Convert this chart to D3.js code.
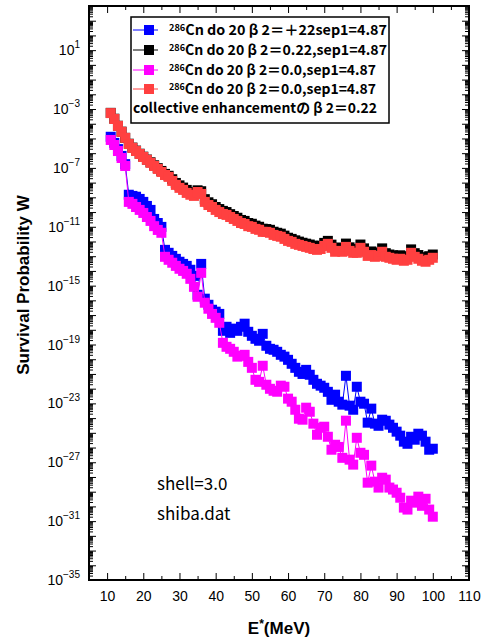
<!DOCTYPE html>
<html><head><meta charset="utf-8">
<script src="https://cdn.jsdelivr.net/npm/d3@7"></script>
<style>body{margin:0;background:#fff}svg{display:block}</style>
</head><body>
<svg id="chart" width="483" height="643"></svg>
<script>
// ---- data ----
const energy = [11,12,13,14,15,16,17,18,19,20,21,22,23,24,25,26,27,28,29,30,
  31,32,33,34,35,36,37,38,39,40,41,42,43,44,45,46,47,48,49,50,
  51,52,53,54,55,56,57,58,59,60,61,62,63,64,65,66,67,68,69,70,
  71,72,73,74,75,76,77,78,79,80,81,82,83,84,85,86,87,88,89,90,
  91,92,93,94,95,96,97,98,99,100];

const wBlue = [1.3e-5,5.0e-6,1.9e-6,6.5e-7,1.8e-7,1.5e-9,1.25e-9,1.1e-9,7.8e-10,4.9e-10,
  2.6e-10,1.4e-10,3.4e-11,1.8e-11,9.8e-12,2.7e-13,1.7e-13,1.05e-13,6.6e-14,4.2e-14,
  3.0e-14,2.2e-14,1.2e-14,4.6e-15,2.4e-16,3.0e-14,1.3e-16,5.0e-17,2.3e-17,1.7e-17,
  1.2e-17,8.5e-19,1.6e-18,6.2e-19,1.2e-18,8.5e-19,1.6e-18,2.6e-18,7.3e-19,3.9e-19,
  2.45e-19,1.8e-19,5.3e-19,8.2e-20,5.1e-20,4.4e-20,3.2e-20,2.0e-20,1.5e-20,9.1e-21,
  4.9e-21,2.6e-21,1.4e-21,1.0e-21,1.9e-21,8.8e-22,4.0e-22,2.15e-22,1.6e-22,1.15e-22,
  6.1e-23,1.75e-23,3.9e-23,1.3e-23,8.2e-24,7.5e-22,7.0e-24,3.7e-24,1.35e-22,1.3e-23,
  9.5e-24,4.9e-25,4.4e-24,4.2e-25,3.0e-25,7.8e-25,6.6e-25,3.6e-25,2.2e-25,1.2e-25,
  6.4e-26,2.5e-26,1.8e-26,5.4e-26,3.4e-26,8.7e-26,6.4e-26,2.5e-26,7.1e-27,8.3e-27];

const wBlack = [5.5e-4,2.2e-4,7.3e-5,2.9e-5,1.1e-5,4.4e-6,2.4e-6,1.5e-6,9.2e-7,5.8e-7,
  3.7e-7,2.4e-7,1.5e-7,9.6e-8,6.2e-8,3.9e-8,2.9e-8,1.7e-8,9.5e-9,6.5e-9,
  4.6e-9,3.2e-9,2.3e-9,1.9e-9,3.0e-9,2.6e-9,7.5e-10,4.6e-10,3.4e-10,2.2e-10,
  1.6e-10,1.2e-10,1.0e-10,7.2e-11,5.4e-11,4.1e-11,2.9e-11,2.5e-11,1.8e-11,1.6e-11,
  1.2e-11,1.0e-11,7.4e-12,7.0e-12,6.2e-12,4.6e-12,3.9e-12,3.4e-12,2.5e-12,1.8e-12,
  1.5e-12,1.2e-12,9.8e-13,8.2e-13,7.1e-13,6.2e-13,5.2e-13,4.5e-13,5.1e-13,8.0e-13,
  1.1e-12,6.1e-13,3.4e-13,3.9e-13,3.4e-13,7.2e-13,4.0e-13,3.0e-13,2.9e-13,6.2e-13,
  3.4e-13,1.8e-13,2.1e-13,1.6e-13,1.8e-13,3.4e-13,1.6e-13,1.3e-13,1.15e-13,1.0e-13,
  1.15e-13,8.6e-14,1.0e-13,2.9e-13,1.6e-13,1.2e-13,8.6e-14,7.4e-14,1.0e-13,1.3e-13];

const wMagenta = [7.9e-6,3.6e-6,1.4e-6,4.7e-7,1.35e-7,4.9e-10,3.6e-10,2.2e-10,1.4e-10,8.7e-11,
  4.6e-11,2.5e-11,1.1e-11,6.1e-12,3.9e-12,9.1e-14,5.7e-14,3.6e-14,2.2e-14,1.4e-14,
  1.0e-14,6.4e-15,2.9e-15,8.3e-16,1.75e-16,7.4e-15,6.9e-17,2.7e-17,1.2e-17,6.5e-18,
  3.0e-18,1.3e-19,7.0e-20,5.1e-20,3.2e-20,1.5e-20,1.7e-20,2.0e-20,6.6e-21,2.6e-21,
  4.0e-22,2.9e-22,3.6e-21,1.85e-22,9.8e-23,7.2e-23,6.2e-23,1.6e-22,1.35e-22,2.1e-23,
  1.3e-23,3.7e-24,9.1e-25,7.8e-25,5.1e-24,2.7e-24,4.2e-25,7.4e-26,2.2e-25,2.6e-25,
  5.4e-26,7.1e-27,1.55e-26,1.1e-26,2.0e-27,6.7e-25,1.5e-27,6.9e-28,4.6e-26,4.4e-27,
  3.2e-27,4.1e-29,5.9e-28,4.8e-29,1.9e-29,8.9e-29,6.6e-29,1.9e-29,1.4e-29,8.5e-30,
  3.9e-30,8.3e-31,6.1e-31,2.45e-30,1.8e-30,4.6e-30,1.1e-30,3.3e-30,6.1e-31,2.0e-31];

const wRed = [5.3e-4,2.1e-4,7.1e-5,2.8e-5,1.1e-5,4.2e-6,2.3e-6,1.4e-6,8.8e-7,5.5e-7,
  3.5e-7,2.2e-7,1.35e-7,8.5e-8,5.3e-8,3.3e-8,2.45e-8,1.3e-8,7.0e-9,4.4e-9,
  3.2e-9,2.0e-9,1.5e-9,1.25e-9,2.3e-9,1.7e-9,4.9e-10,3.0e-10,2.2e-10,1.4e-10,
  1.0e-10,7.4e-11,6.4e-11,4.6e-11,3.4e-11,2.5e-11,1.8e-11,1.55e-11,1.1e-11,9.8e-12,
  7.2e-12,6.2e-12,4.5e-12,4.5e-12,3.9e-12,2.8e-12,2.4e-12,2.1e-12,1.5e-12,1.1e-12,
  9.4e-13,6.9e-13,5.9e-13,5.0e-13,4.3e-13,3.7e-13,3.1e-13,2.7e-13,3.1e-13,5.0e-13,
  6.9e-13,3.7e-13,2.0e-13,2.3e-13,2.0e-13,4.3e-13,2.3e-13,1.7e-13,1.7e-13,3.7e-13,
  2.0e-13,1.05e-13,1.2e-13,9.1e-14,1.05e-13,2.0e-13,9.1e-14,7.8e-14,6.7e-14,5.7e-14,
  6.7e-14,4.9e-14,5.7e-14,1.7e-13,9.1e-14,6.7e-14,4.9e-14,4.2e-14,5.7e-14,7.8e-14];

const seriesColors = ["#0000ff", "#000000", "#ff00ff", "#ff4040"];
const legendSup = ["286", "286", "286", "286"];
const legendText = ["Cn do 20 β 2＝＋22sep1=4.87", "Cn do 20 β 2＝0.22,sep1=4.87",
  "Cn do 20 β 2＝0.0,sep1=4.87", "Cn do 20 β 2＝0.0,sep1=4.87"];
const legendExtraLine = "collective enhancementの β 2＝0.22";
const xTickValues = [10,20,30,40,50,60,70,80,90,100,110];
const xMinorTicks = [5,15,25,35,45,55,65,75,85,95,105];
const yLabelExponents = [1,-3,-7,-11,-15,-19,-23,-27,-31,-35];
const notes = ["shell=3.0", "shiba.dat"];

// ---- chart ----
const svg = d3.select("#chart");
svg.append("rect").attr("width", 483).attr("height", 643).attr("fill", "#fff");
const P = {l: 89, r: 469, t: 6, b: 580};
const x = d3.scaleLinear().domain([5, 110]).range([P.l, P.r]);
const y = d3.scaleLog().domain([1e-35, 1e4]).range([P.b, P.t]);

const decades = d3.range(-35, 5).map(e => Math.pow(10, e));
const minors = [];
d3.range(-35, 4).forEach(e => { for (let m = 2; m <= 9; m++) minors.push(m * Math.pow(10, e)); });

function styleAxis(g) {
  g.select(".domain").remove();
  g.selectAll("line").attr("stroke", "#000").attr("stroke-width", 1);
}
// left
svg.append("g").attr("transform", `translate(${P.l},0)`)
  .call(d3.axisLeft(y).tickValues(decades).tickSize(-7).tickFormat("")).call(styleAxis);
svg.append("g").attr("transform", `translate(${P.l},0)`)
  .call(d3.axisLeft(y).tickValues(minors).tickSize(-4).tickFormat("")).call(styleAxis);
// right
svg.append("g").attr("transform", `translate(${P.r},0)`)
  .call(d3.axisRight(y).tickValues(decades).tickSize(-7).tickFormat("")).call(styleAxis);
svg.append("g").attr("transform", `translate(${P.r},0)`)
  .call(d3.axisRight(y).tickValues(minors).tickSize(-4).tickFormat("")).call(styleAxis);
// bottom
const xb = svg.append("g").attr("transform", `translate(0,${P.b})`)
  .call(d3.axisBottom(x).tickValues(xTickValues).tickSize(-7).tickPadding(11).tickFormat(d3.format("d")))
  .call(styleAxis);
xb.selectAll("text").attr("font-family", "Liberation Sans, Arial, sans-serif")
  .attr("font-size", 14).attr("fill", "#000");
svg.append("g").attr("transform", `translate(0,${P.b})`)
  .call(d3.axisBottom(x).tickValues(xMinorTicks).tickSize(-4).tickFormat("")).call(styleAxis);
// top
svg.append("g").attr("transform", `translate(0,${P.t})`)
  .call(d3.axisTop(x).tickValues(xTickValues).tickSize(-7).tickFormat("")).call(styleAxis);
svg.append("g").attr("transform", `translate(0,${P.t})`)
  .call(d3.axisTop(x).tickValues(xMinorTicks).tickSize(-4).tickFormat("")).call(styleAxis);

// y labels with superscripts
const yl = svg.append("g").attr("font-family", "Liberation Sans, Arial, sans-serif").attr("fill", "#000");
yLabelExponents.forEach(e => {
  const t = yl.append("text").attr("x", 80).attr("y", y(Math.pow(10, e)) + 5)
    .attr("text-anchor", "end").attr("font-size", 14);
  t.append("tspan").text("10");
  t.append("tspan").attr("dy", -7).attr("font-size", 10).text(e < 0 ? "\u2212" + (-e) : String(e));
});

// axis titles
svg.append("text").attr("transform", `translate(29,${(P.t + P.b) / 2 - 8}) rotate(-90)`)
  .attr("text-anchor", "middle").attr("font-family", "Liberation Sans, Arial, sans-serif")
  .attr("font-weight", "bold").attr("font-size", 17).text("Survival Probability W");
const xt = svg.append("text").attr("x", (P.l + P.r) / 2).attr("y", 634).attr("text-anchor", "middle")
  .attr("font-family", "Liberation Sans, Arial, sans-serif").attr("font-weight", "bold").attr("font-size", 17);
xt.append("tspan").text("E");
xt.append("tspan").attr("dy", -6).attr("font-size", 12).text("*");
xt.append("tspan").attr("dy", 6).text("(MeV)");

// series
const allSeries = [wBlue, wBlack, wMagenta, wRed];
const line = d3.line().x(d => x(d[0])).y(d => y(d[1]));
const plot = svg.append("g");
allSeries.forEach((vals, i) => {
  const pts = energy.map((e, j) => [e, vals[j]]);
  const g = plot.append("g");
  g.append("path").datum(pts).attr("d", line).attr("fill", "none")
    .attr("stroke", seriesColors[i]).attr("stroke-width", 1);
  g.selectAll("rect").data(pts).join("rect")
    .attr("x", d => x(d[0]) - 5).attr("y", d => y(d[1]) - 5)
    .attr("width", 10).attr("height", 10).attr("fill", seriesColors[i]);
});

// frame
svg.append("rect").attr("x", P.l).attr("y", P.t).attr("width", P.r - P.l).attr("height", P.b - P.t)
  .attr("fill", "none").attr("stroke", "#000").attr("stroke-width", 2);

// legend
const lg = svg.append("g");
lg.append("rect").attr("x", 131).attr("y", 17).attr("width", 258).attr("height", 106)
  .attr("fill", "#fff").attr("stroke", "#000").attr("stroke-width", 1.5);
const rowY = [30, 50, 70, 89];
const rowW = [218, 218, 207, 207];
legendText.forEach((txt, i) => {
  lg.append("line").attr("x1", 133).attr("x2", 158).attr("y1", rowY[i]).attr("y2", rowY[i])
    .attr("stroke", seriesColors[i]).attr("stroke-width", 1);
  lg.append("rect").attr("x", 144).attr("y", rowY[i] - 5).attr("width", 10).attr("height", 10)
    .attr("fill", seriesColors[i]);
  const t = lg.append("text").attr("x", 169).attr("y", rowY[i] + 5)
    .attr("font-family", "Noto Sans CJK JP, sans-serif").attr("font-weight", "bold").attr("font-size", 14)
    .attr("textLength", rowW[i]).attr("lengthAdjust", "spacingAndGlyphs");
  t.append("tspan").attr("font-size", 9).attr("dy", -4).text(legendSup[i]);
  t.append("tspan").attr("dy", 4).text(txt);
});
lg.append("text").attr("x", 133).attr("y", 113)
  .attr("font-family", "Noto Sans CJK JP, sans-serif").attr("font-weight", "bold").attr("font-size", 14)
  .attr("textLength", 244).attr("lengthAdjust", "spacingAndGlyphs").text(legendExtraLine);

// notes
notes.forEach((n, i) => {
  svg.append("text").attr("x", 157).attr("y", 490 + i * 30)
    .attr("font-family", "Noto Sans CJK JP, sans-serif").attr("font-size", 17).text(n);
});
</script>
</body></html>
